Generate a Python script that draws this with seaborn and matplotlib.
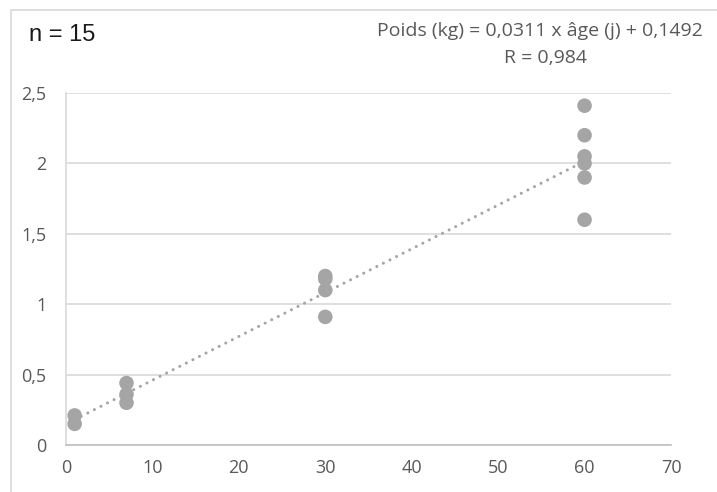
import numpy as np
import pandas as pd
import seaborn as sns
import matplotlib.pyplot as plt
from matplotlib.lines import Line2D

# Age (days) and weight (kg) of the 15 weighed animals
age_days = [1, 1, 7, 7, 7, 30, 30, 30, 30, 60, 60, 60, 60, 60, 60]
weight_kg = [0.21, 0.15, 0.44, 0.36, 0.30, 1.20, 1.18, 1.10, 0.91,
             2.41, 2.20, 2.05, 2.00, 1.90, 1.60]

# Linear fit reported on the chart
slope = 0.0311
intercept = 0.1492
r_value = "0,984"

x_ticks = [0, 10, 20, 30, 40, 50, 60, 70]
y_ticks = [0, 0.5, 1, 1.5, 2, 2.5]
y_tick_labels = ["0", "0,5", "1", "1,5", "2", "2,5"]

df = pd.DataFrame({"age": age_days, "poids": weight_kg})
fit_x = np.array([min(age_days), max(age_days)])
fit = pd.DataFrame({"age": fit_x, "poids": slope * fit_x + intercept})

sns.set_theme(style="white")
plt.rcParams["font.family"] = ["Open Sans", "DejaVu Sans"]

fig = plt.figure(figsize=(7.17, 4.92), dpi=100)
ax = fig.add_axes([66 / 717, 47 / 492, (671 - 66) / 717, (445 - 93) / 492])

grey_mark = "#a5a5a5"
sns.lineplot(data=fit, x="age", y="poids", ax=ax, color=grey_mark,
             linewidth=2.2, linestyle=(0, (0.01, 2.4)),
             dash_capstyle="round", zorder=2)
sns.scatterplot(data=df, x="age", y="poids", ax=ax, color=grey_mark,
                s=110, edgecolor="none", zorder=3)

ax.set_xlim(0, 70)
ax.set_ylim(0, 2.5)
ax.set_xticks(x_ticks)
ax.set_xticklabels([str(v) for v in x_ticks])
ax.set_yticks(y_ticks)
ax.set_yticklabels(y_tick_labels)
ax.set_xlabel("")
ax.set_ylabel("")
ax.yaxis.grid(True, color="#d9d9d9", linewidth=1.2)
ax.xaxis.grid(False)
ax.set_axisbelow(True)
for side in ["right", "top"]:
    ax.spines[side].set_visible(False)
ax.spines["left"].set_color("#d9d9d9")
ax.spines["left"].set_linewidth(1.2)
ax.spines["bottom"].set_color("#bfbfbf")
ax.spines["bottom"].set_linewidth(1.2)
ax.tick_params(axis="both", length=0, labelsize=13, colors="#595959")
ax.tick_params(axis="x", pad=10)
ax.tick_params(axis="y", pad=14)

# Chart frame (top and left edges)
fig.add_artist(Line2D([10.5 / 717, 1], [1 - 9.5 / 492, 1 - 9.5 / 492],
                      transform=fig.transFigure, color="#d9d9d9", linewidth=1.2))
fig.add_artist(Line2D([10.5 / 717, 10.5 / 717], [0, 1 - 9.5 / 492],
                      transform=fig.transFigure, color="#d9d9d9", linewidth=1.2))

fig.text(29 / 717, 1 - 35 / 492, "n = 15", fontsize=17, color="#1a1a1a",
         family=["Liberation Sans", "DejaVu Sans"], va="center", ha="left")
fig.text(540 / 717, 1 - 31 / 492,
         f"Poids (kg) = {str(slope).replace('.', ',')} x âge (j) + {str(intercept).replace('.', ',')}",
         fontsize=14, color="#595959", va="center", ha="center")
fig.text(545 / 717, 1 - 58 / 492, f"R = {r_value}", fontsize=14,
         color="#595959", va="center", ha="center")

fig.savefig("out.png", dpi=100)
